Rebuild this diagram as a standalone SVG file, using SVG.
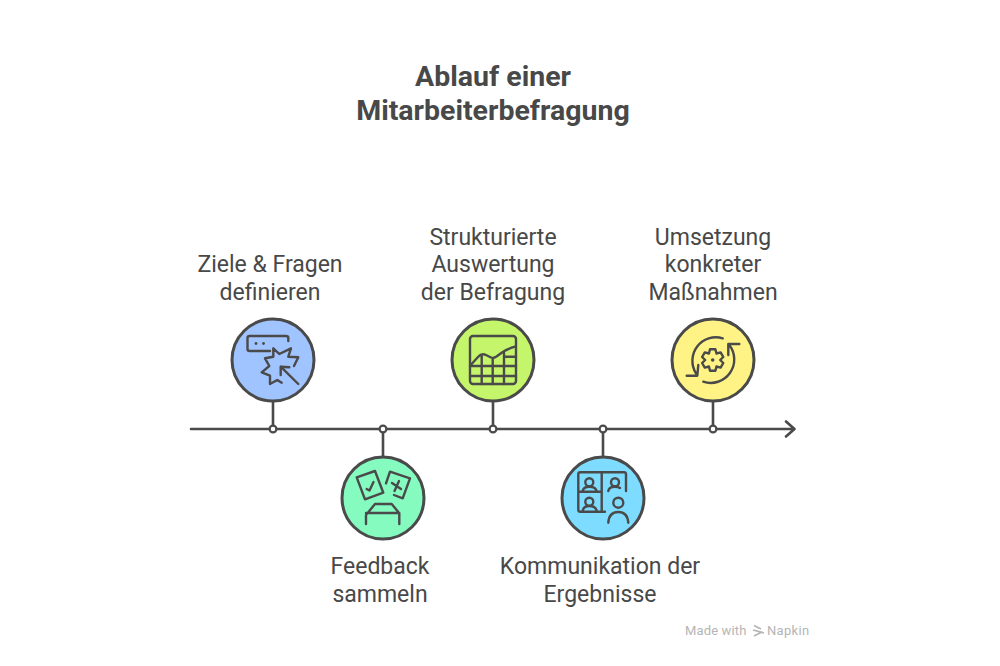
<svg xmlns="http://www.w3.org/2000/svg" width="1000" height="666" viewBox="0 0 1000 666">
<style>
.t{font-family:Roboto,"Liberation Sans",sans-serif;font-size:23px;fill:#484848;text-anchor:middle}
.h{font-family:Roboto,"Liberation Sans",sans-serif;font-size:28.500px;font-weight:700;fill:#484848;text-anchor:middle}
.c{stroke:#4a4a4a;stroke-width:3}
.i{fill:none;stroke:#4a4a4a;stroke-width:2.4;stroke-linecap:round;stroke-linejoin:round}
.l{fill:none;stroke:#4a4a4a;stroke-width:2.6;stroke-linecap:round;stroke-linejoin:round}
.d{fill:#fff;stroke:#4a4a4a;stroke-width:2.2}
.w{font-family:Roboto,"Liberation Sans",sans-serif;font-size:13px;fill:#b5b5b5}
</style>
<rect width="1000" height="666" fill="#fff"/>
<g id="title"><text class="h" x="493" y="85.500">Ablauf einer</text><text class="h" x="493" y="119.500">Mitarbeiterbefragung</text></g>
<g id="connectors">
<path class="l" d="M191 429H793M786 421.500L794.500 429L786 436.500"/>
<path class="l" d="M273 402V429M383 429V456M493 402V429M603 429V456M713 402V429"/>
<circle class="d" cx="273" cy="429" r="3.400"/><circle class="d" cx="383" cy="429" r="3.400"/><circle class="d" cx="493" cy="429" r="3.400"/><circle class="d" cx="603" cy="429" r="3.400"/><circle class="d" cx="713" cy="429" r="3.400"/>
</g>
<g id="node1">
<circle class="c" cx="273" cy="360" r="41" fill="#a0c4ff"/>
<path class="i" d="M288.300 341V338Q288.300 336 286 336H249.500Q247.500 336 247.500 338V349Q247.500 351 249.500 351H270"/>
<circle cx="256" cy="343.500" r="1.400" fill="#4a4a4a"/><circle cx="263.500" cy="343.500" r="1.400" fill="#4a4a4a"/>
<path class="i" d="M294 366L298.300 357.300L288.300 356.700L291 348.300L279.300 354L273.300 348.300V356.700L265 358.300L269.300 366L261.700 372.300L270 375.700V384L277.300 380L281.700 382.700"/>
<path class="i" d="M298.300 384L280.700 366.700M280.700 375V366.700L289.300 367.300"/>
</g>
<g id="node2">
<circle class="c" cx="383" cy="498" r="41" fill="#85fbc0"/>
<path class="i" d="M356.700 477.300L375 471L383.300 492.700L365 499.300Z"/>
<path class="i" d="M366.700 489L369.500 490.500L373.500 482"/>
<path class="i" d="M386 483.300L390 471.700L410 478.300L402.700 498.300L394 495"/>
<path class="i" d="M392 483L401 489M399 481L394.500 491"/>
<path class="i" d="M366 524V515L375 504H391.700L399.300 513.300V524M366 513H399.300"/>
</g>
<g id="node3">
<circle class="c" cx="493" cy="360" r="41" fill="#c4f56b"/>
<rect class="i" x="470" y="336" width="46" height="48" rx="3"/>
<path class="i" d="M470.700 365L478 357Q481.500 353 486 355L491 357.500Q493.500 358.500 496.500 356.500L502 352.500Q507 349 515 346.700M470 366H516M470 376H516M481.700 355V384M492.700 358V384M504 352V384M504 356.700H516"/>
</g>
<g id="node4">
<circle class="c" cx="603" cy="498" r="41" fill="#7ddcff"/>
<path class="i" d="M605 511.700H580.300Q578.300 511.700 578.300 509.700V474.300Q578.300 472.300 580.300 472.300H624Q626 472.300 626 474.300V491M601.700 472.300V511.700M578.300 491.700H601.700"/>
<circle class="i" cx="589.300" cy="482.300" r="4"/><path class="i" d="M582.700 491Q583.500 486.700 589.300 486.700Q595.500 486.700 596.700 491"/>
<circle class="i" cx="615" cy="482.300" r="4"/><path class="i" d="M608.300 491Q609 486.700 615 486.700Q618.500 486.700 620 488"/>
<circle class="i" cx="589.300" cy="501.700" r="4"/><path class="i" d="M582.700 510.700Q583.500 506 589.300 506Q595.500 506 596.700 510.700"/>
<circle class="i" cx="618.300" cy="502.700" r="5"/><path class="i" d="M608.300 522.700Q609 512 618.300 512Q627.500 512 628.300 522.700"/>
</g>
<g id="node5">
<circle class="c" cx="713" cy="360" r="41" fill="#fff385"/>
<path class="i" d="M722.700 338.300A23.500 23.500 0 0 0 696 373.300M686.700 375.700H697.300L698.300 365M703.300 381.700A23.500 23.500 0 0 0 729.300 345M739.300 344H728.300V355"/>
<path class="i" transform="translate(712.700 360)" d="M-2.700-10.700L2.700-10.700L3.750-6.500L7.900-7.600L10.600-3L7.500 0L10.600 3L7.900 7.600L3.750 6.500L2.700 10.700L-2.700 10.700L-3.750 6.500L-7.900 7.600L-10.600 3L-7.500 0L-10.600-3L-7.900-7.600L-3.750-6.500Z"/>
<circle cx="712.700" cy="360" r="1.800" fill="#4a4a4a"/>
</g>
<g id="labels">
<text class="t" x="270" y="272">Ziele &amp; Fragen</text><text class="t" x="270" y="299.500">definieren</text>
<text class="t" x="380" y="574">Feedback</text><text class="t" x="380" y="602">sammeln</text>
<text class="t" x="493" y="245">Strukturierte</text><text class="t" x="493" y="272">Auswertung</text><text class="t" x="493" y="299.500">der Befragung</text>
<text class="t" x="600" y="574">Kommunikation der</text><text class="t" x="600" y="602">Ergebnisse</text>
<text class="t" x="713" y="245">Umsetzung</text><text class="t" x="713" y="272">konkreter</text><text class="t" x="713" y="299.500">Maßnahmen</text>
</g>
<g id="watermark">
<text class="w" x="685" y="635" letter-spacing=".15">Made with</text>
<path d="M754 625.500L761 629M753 630L764 633M754 636L762 632" fill="none" stroke="#b5b5b5" stroke-width="1.800"/>
<text class="w" x="767" y="635" letter-spacing=".3">Napkin</text>
</g>
</svg>
